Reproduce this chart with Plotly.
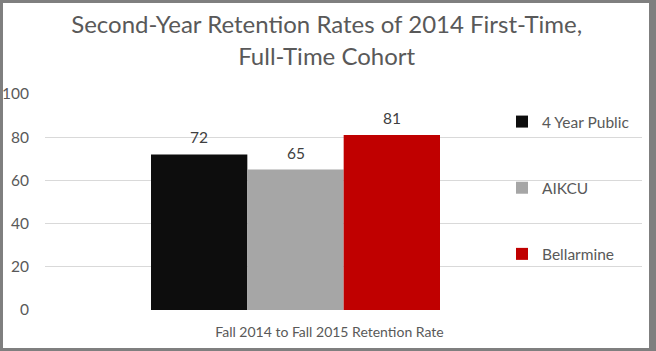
import plotly.graph_objects as go

categories = ["Fall 2014 to Fall 2015 Retention Rate"]
series_names = ["4 Year Public", "AIKCU", "Bellarmine"]
series_values = [[72], [65], [81]]
series_colors = ["#0d0d0d", "#a6a6a6", "#c00000"]
y_ticks = [0, 20, 40, 60, 80, 100]

W, H = 656, 351
L, R, T, B = 45, 14, 94, 41
pw = W - L - R
ph = H - T - B

FONT = "Lato"
TXT = "#595959"

# category at 0 maps to pixel 295.5; group of 3 bars spans 289 px
U = 501.0
GROUP_PX = 289.0
bar_px = GROUP_PX / len(series_names)
r0 = -(295.5 - L) / U
r1 = r0 + pw / U

fig = go.Figure()
annotations = []
for i, (name, vals, col) in enumerate(zip(series_names, series_values, series_colors)):
    fig.add_trace(go.Bar(
        x=categories, y=vals, name=name, marker=dict(color=col, line=dict(width=0)),
        legendgroup=f"g{i}",
    ))
    for c, v in zip(categories, vals):
        annotations.append(dict(
            x=c, y=v, xref="x", yref="y", text=str(v), showarrow=False,
            xanchor="center", yanchor="bottom", yshift=6,
            xshift=(i - (len(series_names) - 1) / 2) * bar_px,
            font=dict(family=FONT, size=15.5, color="#404040"),
        ))

def px_x(p):
    return (p - L) / pw

def px_y(p):
    return (H - B - p) / ph

shapes = [
    dict(type="rect", xref="paper", yref="paper",
         x0=px_x(1.5), x1=px_x(W - 1.5), y0=px_y(H - 1.5), y1=px_y(1.5),
         line=dict(color="#7f7f7f", width=3), layer="above"),
    dict(type="rect", xref="paper", yref="paper",
         x0=px_x(W - 7), x1=px_x(W), y0=px_y(H), y1=px_y(0),
         fillcolor="#7f7f7f", line=dict(width=0), layer="above"),
]

fig.update_layout(
    template="none",
    width=W, height=H, autosize=False,
    margin=dict(l=L, r=R, t=T, b=B, pad=0, autoexpand=False),
    paper_bgcolor="white", plot_bgcolor="white",
    barmode="group", bargap=1 - GROUP_PX / U, bargroupgap=0,
    title=dict(text="Second-Year Retention Rates of 2014 First-Time,<br>Full-Time Cohort",
               x=0.498, xref="container", xanchor="center", y=0.905, yref="container",
               yanchor="middle",
               font=dict(family=FONT, size=24, color=TXT)),
    xaxis=dict(range=[r0, r1], type="category", showgrid=False, zeroline=False,
               showline=False, automargin=False,
               tickfont=dict(family=FONT, size=14, color=TXT), ticks="",
               ticklabelshift=34, ticklabelstandoff=12),
    yaxis=dict(range=[0, 100], tickvals=y_ticks, showgrid=True, gridcolor="#d9d9d9",
               gridwidth=1, zeroline=False, showline=False, ticks="", automargin=False,
               tickfont=dict(family=FONT, size=15.5, color=TXT), ticklabelstandoff=15),
    legend=dict(x=px_x(502), y=px_y(105), xanchor="left", yanchor="top",
                font=dict(family=FONT, size=15.5, color=TXT),
                tracegroupgap=43, itemwidth=30, bgcolor="rgba(0,0,0,0)", borderwidth=0),
    shapes=shapes,
    annotations=annotations,
    showlegend=True,
)

fig.write_html("out.html")
